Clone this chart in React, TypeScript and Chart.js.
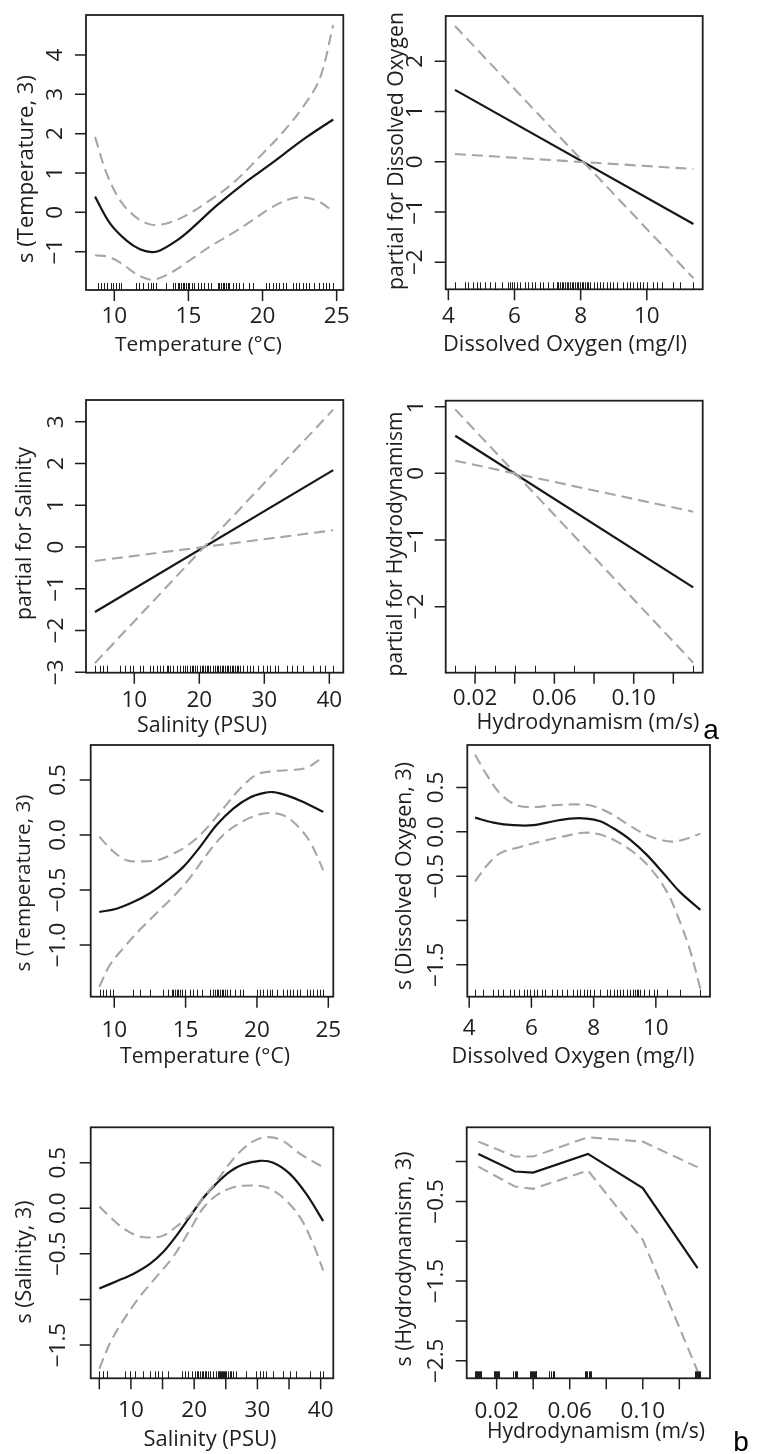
import React, { useEffect, useRef } from "react";
import { Chart, registerables } from "chart.js";
Chart.register(...registerables);

// ---------- Panel a1: Temperature (smooth) ----------
const TA_FIT_X = [8.7, 9.71, 10.83, 11.73, 12.52, 13.08, 14.2, 15.1, 16.9, 18.7, 20.05, 21.4, 22.97, 24.77];
const TA_FIT_Y = [0.4, -0.28, -0.72, -0.94, -1.01, -0.97, -0.72, -0.45, 0.17, 0.72, 1.09, 1.47, 1.91, 2.36];
const TA_UP_X = [8.7, 9.48, 10.38, 11.28, 12.18, 12.85, 13.75, 14.88, 16.23, 18.03, 19.82, 21.4, 22.75, 23.87, 24.77];
const TA_UP_Y = [1.92, 0.99, 0.31, -0.07, -0.28, -0.32, -0.26, -0.07, 0.25, 0.75, 1.42, 2.05, 2.69, 3.41, 4.76];
const TA_LO_X = [8.7, 9.6, 10.5, 11.4, 12.29, 12.97, 13.94, 15.28, 16.63, 17.98, 19.33, 20.68, 22.03, 22.93, 23.83, 24.77];
const TA_LO_Y = [-1.09, -1.13, -1.3, -1.55, -1.7, -1.68, -1.51, -1.17, -0.83, -0.53, -0.2, 0.14, 0.36, 0.37, 0.27, 0.02];
const TA_RUG = [8.88, 9.1, 9.33, 9.48, 9.78, 9.93, 10.11, 10.29, 10.45, 11.46, 11.69, 11.91, 12.25, 12.47, 12.59, 12.81, 13.49, 13.94, 14.12, 14.27, 14.38, 14.5, 14.61, 14.72, 14.83, 14.95, 15.06, 15.24, 15.4, 15.62, 15.85, 16.07, 16.3, 16.52, 16.97, 17.08, 17.2, 17.31, 17.42, 17.53, 17.65, 17.76, 17.98, 18.21, 18.43, 18.66, 19.11, 19.33, 20.23, 20.46, 20.68, 20.91, 21.13, 21.36, 21.58, 22.03, 22.26, 22.48, 22.71, 22.93, 23.16, 23.49, 23.83, 24.05, 24.28, 24.5, 24.73];
const TA_XTICKS = [10, 15, 20, 25];
const TA_XLABELS = ["10", "15", "20", "25"];
const TA_YTICKS = [-1, 0, 1, 2, 3, 4];
const TA_YLABELS = ["−1", "0", "1", "2", "3", "4"];

// ---------- Panel a2: Dissolved Oxygen (linear) ----------
const DA_X = [4.2, 11.41];
const DA_FIT_Y = [1.43, -1.24];
const DA_B1_Y = [2.7, -2.32];
const DA_B2_Y = [0.153, -0.145];
const DA_RUG = [4.2, 4.5, 4.6, 4.76, 4.86, 4.96, 5.11, 5.26, 5.41, 5.61, 5.81, 5.86, 5.92, 5.97, 6.07, 6.17, 6.32, 6.42, 6.52, 6.62, 6.77, 6.87, 7.02, 7.17, 7.28, 7.33, 7.38, 7.43, 7.48, 7.53, 7.58, 7.63, 7.68, 7.73, 7.78, 7.83, 7.88, 7.93, 7.98, 8.03, 8.08, 8.13, 8.18, 8.23, 8.28, 8.39, 8.49, 8.59, 8.69, 8.79, 8.89, 8.99, 9.09, 9.29, 9.39, 9.49, 9.59, 9.7, 9.8, 9.9, 10.0, 10.2, 10.3, 10.45, 10.8, 11.0, 11.41];
const DA_XTICKS = [4, 6, 8, 10];
const DA_XLABELS = ["4", "6", "8", "10"];
const DA_YTICKS = [-2, -1, 0, 1, 2];
const DA_YLABELS = ["−2", "−1", "0", "1", "2"];

// ---------- Panel a3: Salinity (linear) ----------
const SA_X = [3.95, 40.6];
const SA_FIT_Y = [-1.556, 1.84];
const SA_B1_Y = [-2.78, 3.29];
const SA_B2_Y = [-0.335, 0.4];
const SA_RUG = [3.95, 4.72, 5.23, 5.74, 7.79, 8.56, 9.33, 9.85, 10.87, 11.38, 12.41, 12.92, 13.44, 13.95, 14.46, 14.97, 15.23, 15.49, 16.0, 16.51, 17.03, 17.54, 17.79, 18.05, 18.56, 18.82, 19.08, 19.33, 19.59, 20.1, 20.36, 20.62, 20.87, 21.13, 21.38, 21.64, 22.15, 22.41, 22.67, 22.92, 23.18, 23.44, 23.69, 23.95, 24.21, 24.46, 24.72, 24.97, 25.23, 25.49, 25.74, 26.0, 26.26, 26.77, 27.28, 27.79, 28.31, 29.08, 29.85, 30.36, 30.87, 31.64, 32.15, 33.44, 34.21, 34.97, 36.0, 37.54, 38.56, 39.33, 40.62];
const SA_XTICKS = [10, 20, 30, 40];
const SA_XLABELS = ["10", "20", "30", "40"];
const SA_YTICKS = [-3, -2, -1, 0, 1, 2, 3];
const SA_YLABELS = ["−3", "−2", "−1", "0", "1", "2", "3"];

// ---------- Panel a4: Hydrodynamism (linear) ----------
const HA_X = [0.01, 0.13];
const HA_FIT_Y = [0.565, -1.71];
const HA_B1_Y = [0.96, -2.84];
const HA_B2_Y = [0.19, -0.575];
const HA_RUG = [0.01, 0.02, 0.03, 0.04, 0.05, 0.07, 0.13];
const HA_XTICKS = [0.02, 0.04, 0.06, 0.08, 0.1, 0.12];
const HA_XLABELS = ["0.02", "", "0.06", "", "0.10", ""];
const HA_YTICKS = [-2, -1, 0, 1];
const HA_YLABELS = ["−2", "−1", "0", "1"];

// ---------- Panel b1: Temperature (smooth) ----------
const TB_FIT_X = [8.95, 10.16, 11.33, 12.5, 13.67, 14.84, 16.0, 17.17, 18.34, 19.51, 20.44, 21.14, 22.08, 23.25, 24.65];
const TB_FIT_Y = [-0.7, -0.67, -0.61, -0.53, -0.42, -0.29, -0.11, 0.09, 0.24, 0.34, 0.38, 0.39, 0.36, 0.3, 0.21];
const TB_UP_X = [8.95, 9.93, 10.86, 11.8, 12.97, 14.14, 15.3, 16.47, 17.64, 18.81, 19.98, 21.14, 22.31, 23.48, 24.65];
const TB_UP_Y = [-0.015, -0.15, -0.23, -0.24, -0.23, -0.17, -0.08, 0.06, 0.24, 0.42, 0.55, 0.58, 0.59, 0.61, 0.71];
const TB_LO_X = [8.95, 9.7, 10.63, 11.8, 12.97, 14.14, 15.3, 16.47, 17.64, 18.81, 19.98, 20.91, 21.84, 22.78, 23.71, 24.65];
const TB_LO_Y = [-1.38, -1.18, -1.03, -0.86, -0.71, -0.56, -0.39, -0.18, 0.0, 0.11, 0.18, 0.2, 0.18, 0.09, -0.06, -0.32];
const TB_RUG = [9.0, 9.23, 9.42, 9.7, 9.88, 11.33, 11.8, 12.5, 13.43, 13.79, 14.02, 14.14, 14.25, 14.37, 14.49, 14.6, 14.72, 14.95, 15.3, 15.54, 15.77, 16.12, 16.71, 16.94, 17.06, 17.17, 17.29, 17.41, 17.52, 17.64, 17.76, 17.87, 18.11, 18.46, 18.81, 19.04, 19.98, 20.21, 20.44, 20.68, 20.91, 21.03, 21.38, 21.85, 22.08, 22.31, 22.55, 22.78, 23.01, 23.48, 23.71, 23.95, 24.18, 24.42, 24.65];
const TB_XTICKS = [10, 15, 20, 25];
const TB_XLABELS = ["10", "15", "20", "25"];
const TB_YTICKS = [-1.0, -0.5, 0.0, 0.5];
const TB_YLABELS = ["−1.0", "−0.5", "0.0", "0.5"];

// ---------- Panel b2: Dissolved Oxygen (smooth) ----------
const DB_FIT_X = [4.19, 4.78, 5.43, 6.07, 6.71, 7.25, 7.78, 8.21, 8.64, 9.18, 9.71, 10.25, 10.78, 11.43];
const DB_FIT_Y = [0.16, 0.105, 0.075, 0.075, 0.12, 0.15, 0.15, 0.12, 0.04, -0.09, -0.26, -0.47, -0.68, -0.88];
const DB_UP_X = [4.19, 4.57, 5.0, 5.53, 6.07, 6.71, 7.46, 8.0, 8.53, 9.07, 9.61, 10.14, 10.57, 11.0, 11.43];
const DB_UP_Y = [0.87, 0.64, 0.43, 0.3, 0.28, 0.3, 0.31, 0.29, 0.21, 0.09, -0.02, -0.09, -0.11, -0.075, -0.02];
const DB_LO_X = [4.19, 4.57, 5.0, 5.64, 6.29, 6.93, 7.68, 8.21, 8.75, 9.28, 9.82, 10.36, 10.78, 11.11, 11.43];
const DB_LO_Y = [-0.56, -0.38, -0.24, -0.17, -0.11, -0.06, -0.01, -0.03, -0.11, -0.23, -0.41, -0.68, -1.02, -1.35, -1.77];
const DB_RUG = [4.19, 4.46, 4.78, 4.94, 5.1, 5.32, 5.43, 5.59, 5.75, 5.85, 5.96, 6.07, 6.18, 6.34, 6.44, 6.66, 6.82, 6.98, 7.14, 7.35, 7.46, 7.57, 7.68, 7.78, 7.89, 8.0, 8.21, 8.43, 8.53, 8.64, 8.75, 8.86, 8.96, 9.07, 9.18, 9.28, 9.34, 9.39, 9.44, 9.5, 9.61, 9.77, 9.93, 10.03, 10.36, 10.78, 11.43];
const DB_XTICKS = [4, 6, 8, 10];
const DB_XLABELS = ["4", "6", "8", "10"];
const DB_YTICKS = [-1.5, -1.0, -0.5, 0.0, 0.5];
const DB_YLABELS = ["−1.5", "", "−0.5", "0.0", "0.5"];

// ---------- Panel b3: Salinity (smooth) ----------
const SB_FIT_X = [5.0, 7.74, 10.37, 13.0, 15.1, 17.2, 19.3, 21.4, 23.5, 25.6, 27.7, 30.4, 32.5, 35.1, 37.7, 40.4];
const SB_FIT_Y = [-0.88, -0.8, -0.72, -0.61, -0.48, -0.3, -0.095, 0.11, 0.27, 0.4, 0.48, 0.52, 0.5, 0.38, 0.16, -0.14];
const SB_UP_X = [5.0, 6.68, 8.79, 10.9, 12.7, 15.1, 17.2, 19.3, 21.4, 23.5, 25.6, 27.7, 29.8, 31.9, 34.0, 36.7, 40.4];
const SB_UP_Y = [0.02, -0.095, -0.22, -0.3, -0.32, -0.3, -0.2, -0.077, 0.11, 0.29, 0.49, 0.65, 0.75, 0.78, 0.74, 0.6, 0.45];
const SB_LO_X = [5.0, 6.68, 8.79, 11.4, 14.05, 16.7, 19.3, 21.4, 23.5, 26.2, 28.8, 31.4, 34.0, 36.7, 38.8, 40.4];
const SB_LO_Y = [-1.76, -1.48, -1.23, -0.97, -0.75, -0.53, -0.24, 0.0, 0.14, 0.23, 0.25, 0.23, 0.12, -0.095, -0.39, -0.68];
const SB_RUG = [5.0, 5.63, 6.16, 9.05, 9.84, 10.63, 11.95, 13.0, 13.79, 14.32, 14.84, 15.89, 18.0, 18.53, 19.05, 19.58, 20.11, 20.37, 20.63, 20.89, 21.16, 21.42, 21.68, 21.95, 22.21, 22.47, 23.0, 23.53, 23.79, 23.95, 24.1, 24.26, 24.42, 24.58, 24.74, 24.9, 25.1, 25.37, 25.63, 25.9, 26.16, 26.68, 28.26, 29.84, 30.37, 30.9, 31.42, 32.47, 34.05, 35.1, 36.16, 38.26, 39.84, 40.37];
const SB_XTICKS = [5, 10, 15, 20, 25, 30, 35, 40];
const SB_XLABELS = ["", "10", "", "20", "", "30", "", "40"];
const SB_YTICKS = [-1.5, -1.0, -0.5, 0.0, 0.5];
const SB_YLABELS = ["−1.5", "", "−0.5", "0.0", "0.5"];

// ---------- Panel b4: Hydrodynamism (piecewise) ----------
const HB_X = [0.01, 0.03, 0.04, 0.07, 0.1, 0.13];
const HB_FIT_Y = [0.096, -0.125, -0.138, 0.096, -0.334, -1.336];
const HB_UP_Y = [0.25, 0.063, 0.063, 0.305, 0.25, -0.07];
const HB_LO_Y = [-0.063, -0.313, -0.342, -0.113, -0.981, -2.63];
const HB_RUG = [0.0083, 0.0088, 0.0093, 0.0098, 0.0103, 0.0108, 0.0113, 0.0117,
  0.0183, 0.0188, 0.0193, 0.0198, 0.0203, 0.0208, 0.0213,
  0.0288, 0.0298, 0.0306, 0.0314,
  0.0383, 0.0388, 0.0393, 0.0398, 0.0403, 0.0408, 0.0413, 0.0417,
  0.0488, 0.0497, 0.0506, 0.0513,
  0.0686, 0.0691, 0.0697, 0.0703, 0.0709, 0.0714,
  0.1286, 0.1291, 0.1297, 0.1303, 0.1309, 0.1314];
const HB_XTICKS = [0.02, 0.04, 0.06, 0.08, 0.1, 0.12];
const HB_XLABELS = ["0.02", "", "0.06", "", "0.10", ""];
const HB_YTICKS = [-2.5, -2.0, -1.5, -1.0, -0.5, 0.0];
const HB_YLABELS = ["−2.5", "", "−1.5", "", "−0.5", ""];

// ---------- layout ----------
const ROWS = [[0, 372], [372, 742], [742, 1090], [1090, 1454]];
const COLS = [[0, 380], [380, 761]];
const FONT = '"Open Sans", "Noto Sans", sans-serif';
const INK = "#1e1e1e";
const BAND = "#a6a6a6";

type Series = { x: number[]; y: number[] };
type PanelDef = {
  col: number;
  row: number;
  box: [number, number, number, number];
  xr: [number, number];
  yr: [number, number];
  fit: Series;
  bands: Series[];
  smooth: boolean;
  rug: number[];
  xt: number[];
  xl: string[];
  yt: number[];
  yl: string[];
  xLabBase: number;
  yLabOff: number;
  xTitle: string;
  xTitleC: [number, number, number];
  yTitle: string;
  yTitleC: [number, number, number];
  letter?: [string, number, number];
};

const PANELS: PanelDef[] = [
  {
    col: 0, row: 0, box: [86, 15, 343.3, 290], xr: [8.09, 25.45], yr: [-1.974, 5.017],
    fit: { x: TA_FIT_X, y: TA_FIT_Y }, bands: [{ x: TA_UP_X, y: TA_UP_Y }, { x: TA_LO_X, y: TA_LO_Y }], smooth: true,
    rug: TA_RUG, xt: TA_XTICKS, xl: TA_XLABELS, yt: TA_YTICKS, yl: TA_YLABELS,
    xLabBase: 323.3, yLabOff: 24, xTitle: "Temperature (°C)", xTitleC: [198.5, 351, 167],
    yTitle: "s (Temperature, 3)", yTitleC: [33, 169, 188],
  },
  {
    col: 1, row: 0, box: [445.7, 16, 702.7, 289.3], xr: [3.92, 11.69], yr: [-2.54, 2.9],
    fit: { x: DA_X, y: DA_FIT_Y }, bands: [{ x: DA_X, y: DA_B1_Y }, { x: DA_X, y: DA_B2_Y }], smooth: false,
    rug: DA_RUG, xt: DA_XTICKS, xl: DA_XLABELS, yt: DA_YTICKS, yl: DA_YLABELS,
    xLabBase: 323, yLabOff: 24, xTitle: "Dissolved Oxygen (mg/l)", xTitleC: [565, 351, 244],
    yTitle: "partial for Dissolved Oxygen", yTitleC: [403, 151, 278],
  },
  {
    col: 0, row: 1, box: [86, 400, 343.3, 672.7], xr: [2.57, 42.15], yr: [-3.01, 3.52],
    fit: { x: SA_X, y: SA_FIT_Y }, bands: [{ x: SA_X, y: SA_B1_Y }, { x: SA_X, y: SA_B2_Y }], smooth: false,
    rug: SA_RUG, xt: SA_XTICKS, xl: SA_XLABELS, yt: SA_YTICKS, yl: SA_YLABELS,
    xLabBase: 706.7, yLabOff: 23, xTitle: "Salinity (PSU)", xTitleC: [202, 731.5, 130],
    yTitle: "partial for Salinity", yTitleC: [31, 533.5, 173],
  },
  {
    col: 1, row: 1, box: [445.7, 400.7, 702.7, 672.7], xr: [0.0052, 0.1348], yr: [-2.99, 1.09],
    fit: { x: HA_X, y: HA_FIT_Y }, bands: [{ x: HA_X, y: HA_B1_Y }, { x: HA_X, y: HA_B2_Y }], smooth: false,
    rug: HA_RUG, xt: HA_XTICKS, xl: HA_XLABELS, yt: HA_YTICKS, yl: HA_YLABELS,
    xLabBase: 705, yLabOff: 22.5, xTitle: "Hydrodynamism (m/s)", xTitleC: [588, 728.5, 223],
    yTitle: "partial for Hydrodynamism", yTitleC: [401.5, 544, 265],
    letter: ["a", 711, 739],
  },
  {
    col: 0, row: 2, box: [90.7, 745, 333.3, 996.7], xr: [8.35, 25.35], yr: [-1.47, 0.818],
    fit: { x: TB_FIT_X, y: TB_FIT_Y }, bands: [{ x: TB_UP_X, y: TB_UP_Y }, { x: TB_LO_X, y: TB_LO_Y }], smooth: true,
    rug: TB_RUG, xt: TB_XTICKS, xl: TB_XLABELS, yt: TB_YTICKS, yl: TB_YLABELS,
    xLabBase: 1036.7, yLabOff: 25.5, xTitle: "Temperature (°C)", xTitleC: [205, 1063.3, 170],
    yTitle: "s (Temperature, 3)", yTitleC: [30, 883, 177],
  },
  {
    col: 1, row: 2, box: [467.3, 745, 710, 996.7], xr: [3.94, 11.74], yr: [-1.86, 0.98],
    fit: { x: DB_FIT_X, y: DB_FIT_Y }, bands: [{ x: DB_UP_X, y: DB_UP_Y }, { x: DB_LO_X, y: DB_LO_Y }], smooth: true,
    rug: DB_RUG, xt: DB_XTICKS, xl: DB_XLABELS, yt: DB_YTICKS, yl: DB_YLABELS,
    xLabBase: 1035, yLabOff: 24, xTitle: "Dissolved Oxygen (mg/l)", xTitleC: [573, 1063.3, 243],
    yTitle: "s (Dissolved Oxygen, 3)", yTitleC: [411, 876, 228],
  },
  {
    col: 0, row: 3, box: [90.7, 1127.3, 333.3, 1378.3], xr: [3.64, 42.0], yr: [-1.865, 0.888],
    fit: { x: SB_FIT_X, y: SB_FIT_Y }, bands: [{ x: SB_UP_X, y: SB_UP_Y }, { x: SB_LO_X, y: SB_LO_Y }], smooth: true,
    rug: SB_RUG, xt: SB_XTICKS, xl: SB_XLABELS, yt: SB_YTICKS, yl: SB_YLABELS,
    xLabBase: 1416.7, yLabOff: 25.5, xTitle: "Salinity (PSU)", xTitleC: [210, 1446, 133],
    yTitle: "s (Salinity, 3)", yTitleC: [31, 1262, 123],
  },
  {
    col: 1, row: 3, box: [466.7, 1127.3, 710, 1378.3], xr: [0.0036, 0.1368], yr: [-2.72, 0.43],
    fit: { x: HB_X, y: HB_FIT_Y }, bands: [{ x: HB_X, y: HB_UP_Y }, { x: HB_X, y: HB_LO_Y }], smooth: false,
    rug: HB_RUG, xt: HB_XTICKS, xl: HB_XLABELS, yt: HB_YTICKS, yl: HB_YLABELS,
    xLabBase: 1418.3, yLabOff: 23.5, xTitle: "Hydrodynamism (m/s)", xTitleC: [596, 1437.5, 218],
    yTitle: "s (Hydrodynamism, 3)", yTitleC: [411, 1259, 215],
    letter: ["b", 741, 1451],
  },
];

function setFitFont(ctx: CanvasRenderingContext2D, text: string, width: number) {
  ctx.font = `100px ${FONT}`;
  const w = ctx.measureText(text).width || 1;
  const size = (100 * width) / w;
  ctx.font = `${size.toFixed(2)}px ${FONT}`;
}

function makePlugin(p: PanelDef) {
  const ox = COLS[p.col][0];
  const oy = ROWS[p.row][0];
  return {
    id: "rAxes" + p.col + p.row,
    afterDraw(chart: any) {
      const ctx: CanvasRenderingContext2D = chart.ctx;
      const xs = chart.scales.x;
      const ys = chart.scales.y;
      const { left, right, top, bottom } = chart.chartArea;
      ctx.save();
      ctx.strokeStyle = INK;
      ctx.fillStyle = INK;
      // rug
      ctx.lineWidth = 1;
      ctx.beginPath();
      for (const v of p.rug) {
        const px = Math.round(xs.getPixelForValue(v)) + 0.5;
        ctx.moveTo(px, bottom);
        ctx.lineTo(px, bottom - 7);
      }
      ctx.stroke();
      // box
      ctx.lineWidth = 1.8;
      ctx.strokeRect(left, top, right - left, bottom - top);
      // ticks
      ctx.lineWidth = 1.5;
      ctx.beginPath();
      for (const v of p.xt) {
        const px = xs.getPixelForValue(v);
        ctx.moveTo(px, bottom);
        ctx.lineTo(px, bottom + 11);
      }
      for (const v of p.yt) {
        const py = ys.getPixelForValue(v);
        ctx.moveTo(left, py);
        ctx.lineTo(left - 11, py);
      }
      ctx.stroke();
      // tick labels
      ctx.font = `22.5px ${FONT}`;
      ctx.textAlign = "center";
      ctx.textBaseline = "alphabetic";
      p.xt.forEach((v, i) => {
        const lab = p.xl[i];
        if (!lab) return;
        ctx.fillText(lab, xs.getPixelForValue(v), p.xLabBase - oy);
      });
      p.yt.forEach((v, i) => {
        const lab = p.yl[i];
        if (!lab) return;
        ctx.save();
        ctx.translate(left - p.yLabOff, ys.getPixelForValue(v));
        ctx.rotate(-Math.PI / 2);
        ctx.fillText(lab, 0, 0);
        ctx.restore();
      });
      // x title
      setFitFont(ctx, p.xTitle, p.xTitleC[2]);
      ctx.fillText(p.xTitle, p.xTitleC[0] - ox, p.xTitleC[1] - oy);
      // y title
      setFitFont(ctx, p.yTitle, p.yTitleC[2]);
      ctx.save();
      ctx.translate(p.yTitleC[0] - ox, p.yTitleC[1] - oy);
      ctx.rotate(-Math.PI / 2);
      ctx.fillText(p.yTitle, 0, 0);
      ctx.restore();
      if (p.letter) {
        ctx.font = `28px "Liberation Sans", Arial, sans-serif`;
        ctx.fillStyle = "#000";
        ctx.fillText(p.letter[0], p.letter[1] - ox, p.letter[2] - oy);
      }
      ctx.restore();
    },
  };
}

function toPts(s: Series) {
  return s.x.map((x, i) => ({ x, y: s.y[i] }));
}

function Panel({ p }: { p: PanelDef }) {
  const ref = useRef<HTMLCanvasElement | null>(null);
  const [cx0, cx1] = COLS[p.col];
  const [cy0, cy1] = ROWS[p.row];
  const w = cx1 - cx0;
  const h = cy1 - cy0;
  useEffect(() => {
    if (!ref.current) return;
    const tension = p.smooth ? 0.35 : 0;
    const bandDs = p.bands.map((b) => ({
      data: toPts(b),
      borderColor: BAND,
      borderWidth: 2.1,
      borderDash: [11, 6],
      pointRadius: 0,
      fill: false,
      tension,
    }));
    const chart = new Chart(ref.current, {
      type: "line",
      data: {
        datasets: [
          ...bandDs,
          {
            data: toPts(p.fit),
            borderColor: "#161616",
            borderWidth: 2.2,
            pointRadius: 0,
            fill: false,
            tension,
          },
        ] as any,
      },
      options: {
        responsive: false,
        animation: false,
        devicePixelRatio: 1,
        events: [],
        layout: {
          padding: {
            left: p.box[0] - cx0,
            top: p.box[1] - cy0,
            right: cx1 - p.box[2],
            bottom: cy1 - p.box[3],
          },
        },
        plugins: { legend: { display: false }, tooltip: { enabled: false }, title: { display: false } },
        scales: {
          x: { type: "linear", min: p.xr[0], max: p.xr[1], display: false },
          y: { type: "linear", min: p.yr[0], max: p.yr[1], display: false },
        },
      } as any,
      plugins: [makePlugin(p)],
    });
    return () => chart.destroy();
  }, []);
  return (
    <canvas
      ref={ref}
      width={w}
      height={h}
      style={{ position: "absolute", left: cx0, top: cy0, width: w, height: h }}
    />
  );
}

export default function App() {
  useEffect(() => {
    document.body.style.margin = "0";
    document.body.style.background = "#fff";
  }, []);
  return (
    <div style={{ position: "absolute", left: 0, top: 0, width: 761, height: 1454, background: "#fff" }}>
      {PANELS.map((p, i) => (
        <Panel key={i} p={p} />
      ))}
    </div>
  );
}
